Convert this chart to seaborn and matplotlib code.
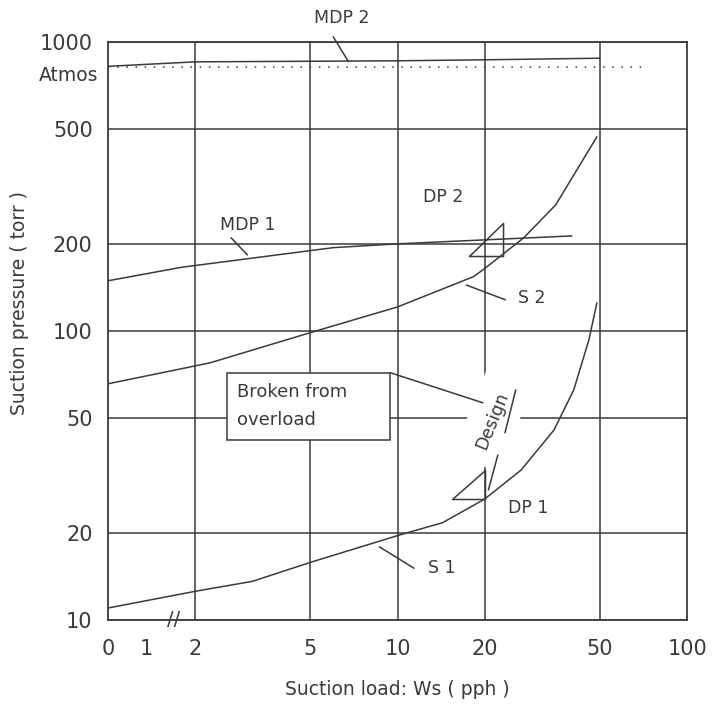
import numpy as np
import pandas as pd
import matplotlib
matplotlib.use("Agg")
import matplotlib.pyplot as plt
from matplotlib.path import Path
from matplotlib.patches import Rectangle
import seaborn as sns

# Curves (load in pph, pressure in torr)
s1_load = [1, 2.03, 3.15, 5.08, 10.2, 14.3, 20, 26.7, 34.7, 40.6, 45.8, 48.8]
s1_pressure = [11.0, 12.6, 13.6, 15.9, 19.7, 21.7, 26.2, 33.0, 45.4, 62.5, 93.1, 125]

s2_load = [1, 2.25, 5.12, 10, 18.3, 19.8, 27.3, 35.2, 48.8]
s2_pressure = [65.6, 77.5, 99.3, 121, 154, 163, 210, 273, 469]

mdp1_load = [1, 1.8, 6, 10, 40]
mdp1_pressure = [149, 166, 194, 200, 213]

mdp2_load = [1, 2, 10, 20, 50]
mdp2_pressure = [822, 852, 859, 866, 877]

atmos_load = [1, 70]
atmos_pressure = [820, 820]

# design points
dp_names = ["DP 1", "DP 2"]
dp_load = [20, 20]
dp_pressure = [26.2, 203]

# axis ticks
x_tick_pos = [1, 1.36, 2, 5, 10, 20, 50, 100]
x_tick_labels = ["0", "1", "2", "5", "10", "20", "50", "100"]
x_grid = [2, 5, 10, 20, 50]
y_ticks = [10, 20, 50, 100, 200, 500, 1000]

INK = "#3a3a3a"

curves = pd.concat([
    pd.DataFrame({"load": s1_load, "pressure": s1_pressure, "curve": "S 1"}),
    pd.DataFrame({"load": s2_load, "pressure": s2_pressure, "curve": "S 2"}),
    pd.DataFrame({"load": mdp1_load, "pressure": mdp1_pressure, "curve": "MDP 1"}),
    pd.DataFrame({"load": mdp2_load, "pressure": mdp2_pressure, "curve": "MDP 2"}),
])

sns.set_theme(style="white")
plt.rcParams["font.family"] = ["DejaVu Sans"]
plt.rcParams["text.color"] = INK

fig = plt.figure(figsize=(7.15, 7.17), dpi=100)
ax = fig.add_axes([0.151, 0.1353, 0.810, 0.8065])

sns.lineplot(
    data=curves, x="load", y="pressure", hue="curve",
    palette={c: INK for c in curves["curve"].unique()},
    estimator=None, sort=False, legend=False, linewidth=1.1, ax=ax, zorder=3
)
ax.plot(atmos_load, atmos_pressure, color=INK, linewidth=1.1,
        linestyle=(0, (1, 5)), zorder=3)

# design point triangles
tri1 = Path([(-33, 0), (0, 29), (0, 0), (-33, 0)],
            [Path.MOVETO, Path.LINETO, Path.LINETO, Path.CLOSEPOLY])
tri2 = Path([(-16, -14), (18, 19), (18, -14), (-16, -14)],
            [Path.MOVETO, Path.LINETO, Path.LINETO, Path.CLOSEPOLY])
ax.plot(dp_load[0], dp_pressure[0], marker=tri1, markersize=47.5, ls="none",
        mfc="none", mec=INK, mew=1.1, zorder=7)
ax.plot(dp_load[1], dp_pressure[1], marker=tri2, markersize=27.4, ls="none",
        mfc="none", mec=INK, mew=1.1, zorder=7)

ax.set_xscale("log")
ax.set_yscale("log")
ax.set_xlim(1, 100)
ax.set_ylim(10, 1000)

ax.set_xticks(x_tick_pos)
ax.set_xticklabels(x_tick_labels)
ax.xaxis.set_minor_locator(plt.NullLocator())
ax.set_yticks(y_ticks)
ax.set_yticklabels([str(v) for v in y_ticks])
ax.yaxis.set_minor_locator(plt.NullLocator())
ax.tick_params(axis="x", which="both", length=0, pad=14, labelsize=15, colors=INK)
ax.tick_params(axis="y", which="both", length=0, pad=11, labelsize=15, colors=INK)

ax.grid(False)
for xv in x_grid:
    ax.axvline(xv, color=INK, linewidth=1.1, zorder=1)
for yv in y_ticks:
    ax.axhline(yv, color=INK, linewidth=1.1, zorder=1)
for sp in ax.spines.values():
    sp.set_color(INK)
    sp.set_linewidth(1.3)

ax.set_xlabel("Suction load: Ws ( pph )", fontsize=13.5, color=INK)
ax.set_ylabel("Suction pressure ( torr )", fontsize=13.5, color=INK)
ax.xaxis.set_label_coords(0.499, -0.104)
ax.yaxis.set_label_coords(-0.137, 0.548)

# axis break mark
ax.text(1.68, 10, "//", fontsize=14, ha="center", va="center", color=INK,
        clip_on=False, zorder=5)

lbl = dict(fontsize=12.5, color=INK, ha="center", va="center")
seg = dict(arrowstyle="-", color=INK, lw=1.1, shrinkA=0, shrinkB=0)

ax.text(6.4, 1211, "MDP 2", clip_on=False, **lbl)
ax.annotate("", xy=(6.77, 853), xytext=(6.0, 1040), arrowprops=seg,
            annotation_clip=False)
ax.text(0.923, 762, "Atmos", fontsize=13.5, color=INK, ha="right",
        va="center", clip_on=False)

ax.text(3.03, 233, "MDP 1", **lbl)
ax.annotate("", xy=(3.03, 183), xytext=(2.66, 210), arrowprops=seg)

ax.text(14.4, 291, "DP 2", **lbl)
ax.text(28.2, 24.4, "DP 1", **lbl)

ax.text(29.1, 130, "S 2", **lbl)
ax.annotate("", xy=(17.3, 144), xytext=(23.6, 128), arrowprops=seg)
ax.text(14.2, 15.1, "S 1", **lbl)
ax.annotate("", xy=(8.66, 17.9), xytext=(11.4, 15.1), arrowprops=seg)

# "Broken from overload" note box
ax.add_patch(Rectangle((0.2055, 0.311), 0.2815, 0.116, transform=ax.transAxes,
                       fc="white", ec=INK, lw=1.1, zorder=6))
ax.text(0.222, 0.370, "Broken from\noverload", fontsize=13, color=INK,
        ha="left", va="center", linespacing=1.75, transform=ax.transAxes,
        zorder=6)
ax.annotate("", xy=(19.7, 56.4), xytext=(9.46, 71.6), arrowprops=seg,
            zorder=7)

ax.text(21.3, 48.9, "Design", fontsize=12.5, color=INK, ha="center",
        va="center", rotation=68, rotation_mode="anchor",
        bbox=dict(boxstyle="square,pad=0.9", fc="white", ec="none"),
        zorder=5)
ax.annotate("", xy=(25.6, 62.5), xytext=(23.5, 44.4), arrowprops=seg,
            zorder=7)
ax.annotate("", xy=(20.6, 28.2), xytext=(22.2, 37.2), arrowprops=seg,
            zorder=7)

fig.savefig("out.png", dpi=100, facecolor="white")
